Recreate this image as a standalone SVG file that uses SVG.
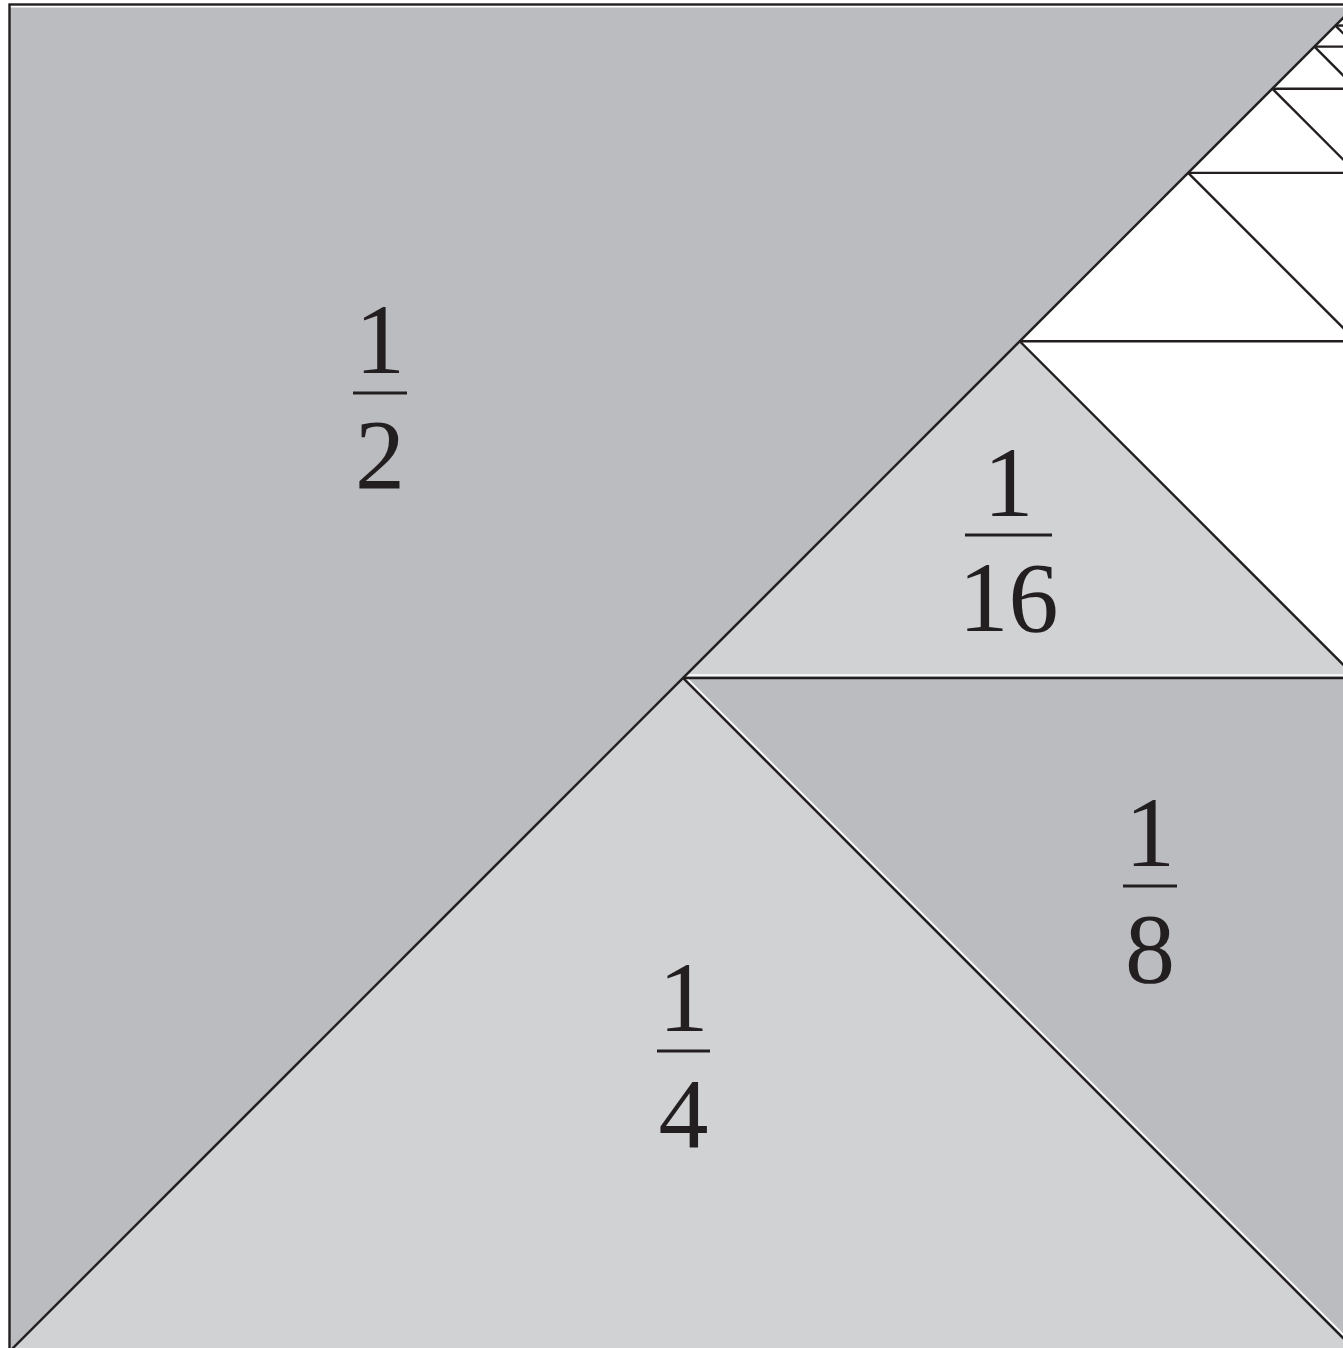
<svg xmlns="http://www.w3.org/2000/svg" width="1343" height="1348" viewBox="0 0 1343 1348">
  <style>
    .dark { fill: #bbbcc0; }
    .light { fill: #d1d2d4; }
    .ln { stroke: #231f20; stroke-width: 2.4; fill: none; }
    .gap { stroke: #ffffff; stroke-width: 1.6; fill: none; }
    .num { font-family: "Liberation Serif", "Times New Roman", serif; font-size: 100px; fill: #231f20; text-anchor: middle; }
    .bar { stroke: #231f20; stroke-width: 3; }
  </style>
  <rect x="0" y="0" width="1343" height="1348" fill="#ffffff"/>
  <g id="half">
    <polygon class="dark" points="9.5,7.5 1353.5,7.5 9.5,1351.5"/>
    <text class="num" x="380" y="373">1</text>
    <line class="bar" x1="353" y1="393" x2="407" y2="393"/>
    <text class="num" x="380" y="488">2</text>
  </g>
  <g id="quarter">
    <polygon class="light" points="9.5,1351.5 683,678 1356.5,1351.5"/>
    <text class="num" x="683.5" y="1031">1</text>
    <line class="bar" x1="657" y1="1051" x2="710" y2="1051"/>
    <text class="num" x="683.5" y="1147">4</text>
  </g>
  <g id="eighth">
    <polygon class="dark" points="683,678 1356.5,678 1356.5,1351.5"/>
    <line class="gap" x1="686" y1="677.5" x2="1356.5" y2="1348"/>
    <text class="num" x="1150" y="866">1</text>
    <line class="bar" x1="1123" y1="886" x2="1177" y2="886"/>
    <text class="num" x="1150" y="982">8</text>
  </g>
  <g id="sixteenth">
    <polygon class="light" points="683,678 1019.75,341.25 1356.5,678"/>
    <line class="gap" x1="687" y1="675" x2="1343" y2="675"/>
    <text class="num" x="1008.5" y="516">1</text>
    <line class="bar" x1="965" y1="535" x2="1052" y2="535"/>
    <text class="num" x="1008.5" y="631">16</text>
  </g>
  <g id="connectors">
    <rect class="ln" x="9.5" y="4.5" width="1347" height="1347" stroke-width="2.8"/>
    <line class="ln" x1="9.5" y1="1351.5" x2="1356.5" y2="4.5"/>
    <line class="ln" x1="683" y1="678" x2="1356.5" y2="678"/>
    <line class="ln" x1="683" y1="678" x2="1356.5" y2="1351.5"/>
    <line class="ln" x1="1019.75" y1="341.25" x2="1356.5" y2="341.25"/>
    <line class="ln" x1="1019.75" y1="341.25" x2="1356.5" y2="678"/>
    <line class="ln" x1="1188.13" y1="172.88" x2="1356.5" y2="172.88"/>
    <line class="ln" x1="1188.13" y1="172.88" x2="1356.5" y2="341.25"/>
    <line class="ln" x1="1272.31" y1="88.69" x2="1356.5" y2="88.69"/>
    <line class="ln" x1="1272.31" y1="88.69" x2="1356.5" y2="172.88"/>
    <line class="ln" x1="1314.41" y1="46.59" x2="1356.5" y2="46.59"/>
    <line class="ln" x1="1314.41" y1="46.59" x2="1356.5" y2="88.69"/>
    <line class="ln" x1="1335.45" y1="25.55" x2="1356.5" y2="25.55"/>
    <line class="ln" x1="1335.45" y1="25.55" x2="1356.5" y2="46.59"/>
    <line class="ln" x1="1345.98" y1="15.02" x2="1356.5" y2="15.02"/>
    <line class="ln" x1="1345.98" y1="15.02" x2="1356.5" y2="25.55"/>
  </g>
</svg>
